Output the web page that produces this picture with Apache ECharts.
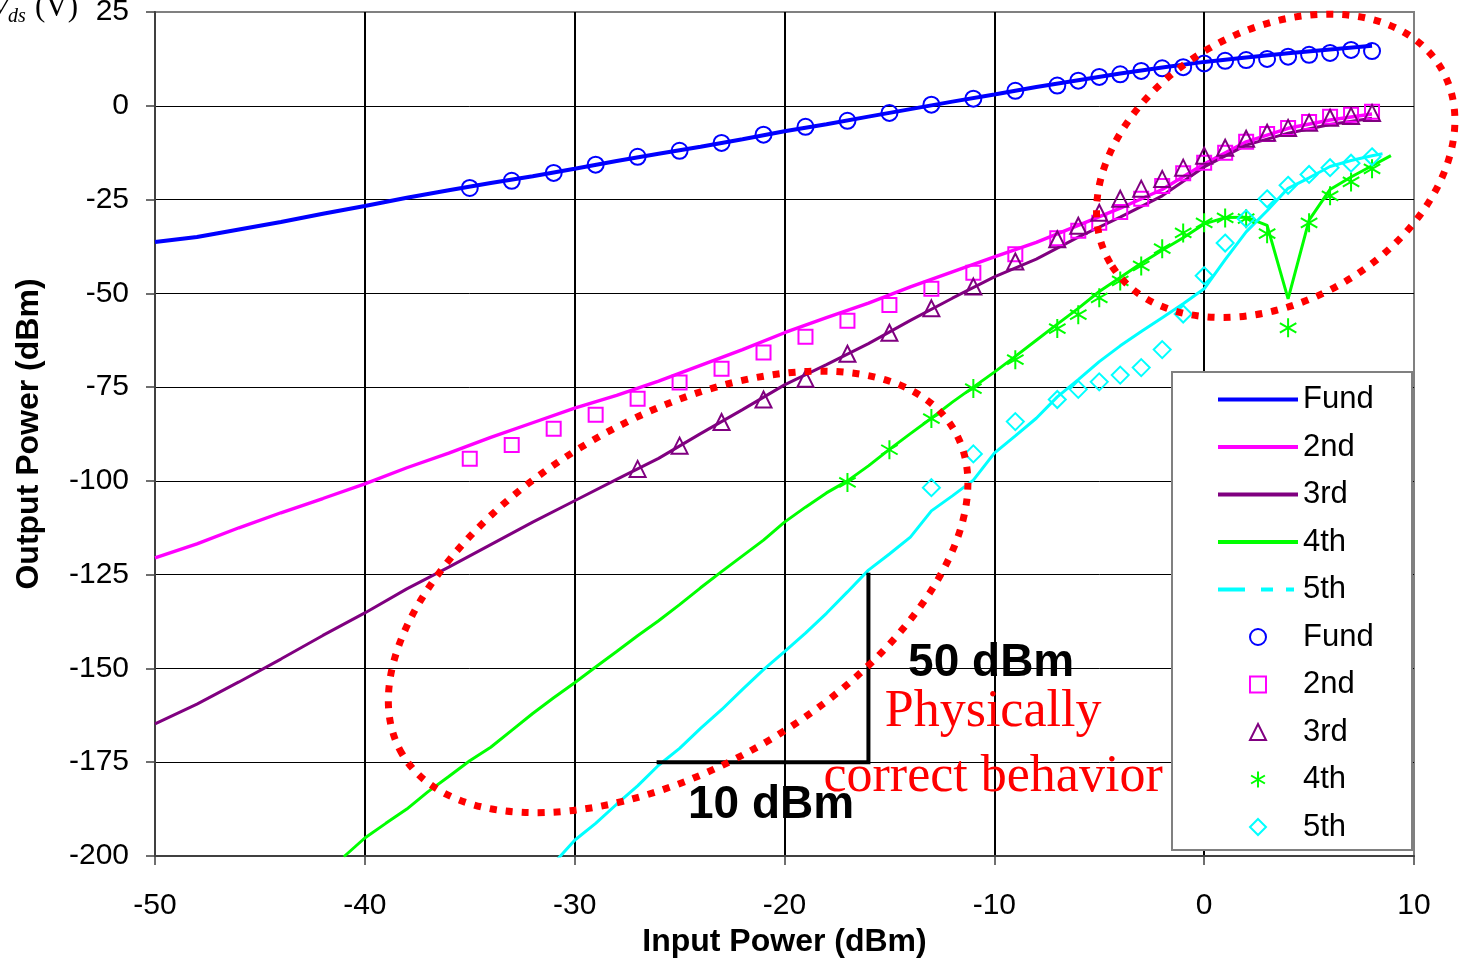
<!DOCTYPE html>
<html>
<head>
<meta charset="utf-8">
<script src="https://cdn.jsdelivr.net/npm/echarts@6/dist/echarts.min.js"></script>
<style>
  html, body { margin: 0; padding: 0; background: #fff; }
  #chart { width: 1462px; height: 960px; }
</style>
</head>
<body>
<div id="chart"></div>
<script>
// ---- simulated harmonic output (solid lines) ----
const simX = [-50,-48,-46,-44,-42,-40,-38,-36,-34,-32,-30,-28,-26,-24,-22,-20,-18,-16,-14,-12,-10,-8,-6,-4,-2,0,2,4,6,8];
const fundSim = [-36.3,-35.0,-33.0,-31.0,-28.8,-26.7,-24.5,-22.5,-20.6,-18.8,-16.8,-14.7,-12.8,-10.9,-8.9,-6.8,-4.9,-2.9,-0.9,1.1,3.0,5.0,6.8,8.6,10.2,11.7,12.9,14.0,15.0,16.0];
const secondSim = [-120.5,-116.8,-112.5,-108.5,-104.7,-100.8,-96.5,-92.6,-88.4,-84.5,-80.6,-77.2,-73.4,-69.2,-65.0,-60.5,-56.5,-52.6,-48.3,-44.3,-40.3,-36.4,-31.9,-27.3,-22.3,-15.5,-9.6,-6.0,-3.8,-2.2];
const thirdSim = [-164.8,-159.5,-153.6,-147.5,-141.2,-135.2,-128.8,-123.0,-117.0,-111.0,-105.3,-99.6,-94.0,-87.4,-81.0,-74.4,-69.0,-63.4,-57.2,-51.3,-45.6,-40.9,-35.0,-29.7,-24.0,-16.3,-10.5,-7.3,-5.0,-3.3];

const fourthSimX = [-41,-40,-39,-38,-37,-36,-35,-34,-33,-32,-31,-30,-29,-28,-27,-26,-25,-24,-23,-22,-21,-20,-19,-18,-17,-16,-15,-14,-13,-12,-11,-10,-9,-8,-7,-6,-5,-4,-3,-2,-1,0,1,2,3,4,5,6,7,8,8.9];
const fourthSim = [-200.2,-195.2,-191.3,-187.5,-182.9,-178.8,-174.6,-171.0,-166.5,-162.0,-157.8,-153.8,-149.6,-145.5,-141.3,-137.3,-133.0,-128.5,-124.2,-120.0,-115.8,-111.0,-107.0,-103.2,-100.0,-96.0,-91.6,-87.4,-83.3,-79.0,-75.0,-71.0,-66.8,-62.5,-58.2,-54.0,-49.5,-45.8,-42.0,-38.5,-35.2,-31.5,-29.8,-29.7,-31.9,-51.5,-30.5,-22.3,-19.0,-16.0,-13.3];

const fifthSimX = [-31,-30,-29,-28,-27,-26,-25,-24,-23,-22,-21,-20,-19,-18,-17,-16,-15,-14,-13,-12,-11,-10,-9,-8,-7,-6,-5,-4,-3,-2,-1,0,1,2,3,4,5,6,7,8,8.5];
const fifthSim = [-202.0,-195.8,-191.3,-186.2,-181.3,-175.8,-171.3,-166.0,-161.0,-155.6,-150.3,-145.5,-140.6,-135.3,-129.6,-123.8,-119.5,-115.0,-108.0,-104.0,-99.8,-92.6,-88.0,-83.3,-77.6,-73.0,-68.2,-64.0,-60.2,-56.5,-52.8,-48.8,-41.0,-33.6,-28.0,-22.0,-19.2,-16.2,-14.6,-13.3,-12.8];

// ---- measured harmonic output (markers) ----
const measX = [-35,-33,-31,-29,-27,-25,-23,-21,-19,-17,-15,-13,-11,-9,-7,-6,-5,-4,-3,-2,-1,0,1,2,3,4,5,6,7,8];
const fundMeas = [-21.9,-20.0,-17.9,-15.7,-13.6,-12.0,-9.9,-7.7,-5.6,-4.0,-1.9,0.3,1.9,4.0,5.4,6.7,7.7,8.4,9.3,10.0,10.3,11.3,12.0,12.2,12.5,13.1,13.6,14.1,14.9,14.6];
const secondMeas = [-94.1,-90.4,-86.1,-82.4,-78.1,-73.8,-70.1,-65.8,-61.6,-57.3,-53.1,-48.8,-44.5,-39.6,-35.3,-33.3,-31.2,-28.3,-24.8,-21.4,-18.0,-15.2,-12.5,-9.6,-7.5,-5.9,-4.3,-2.9,-2.4,-1.6];
const thirdMeasX = [-27,-25,-23,-21,-19,-17,-15,-13,-11,-9,-7,-6,-5,-4,-3,-2,-1,0,1,2,3,4,5,6,7,8];
const thirdMeas = [-96.8,-90.6,-84.3,-78.3,-72.8,-66.1,-60.5,-54.0,-48.2,-41.5,-35.6,-32.0,-28.5,-24.8,-22.1,-19.5,-16.5,-13.3,-11.2,-8.8,-7.2,-5.9,-4.5,-3.2,-2.7,-1.9];
const fourthMeasX = [-17,-15,-13,-11,-9,-7,-6,-5,-4,-3,-2,-1,0,1,2,3,4,5,6,7,8];
const fourthMeas = [-100.4,-91.7,-83.4,-75.4,-67.7,-59.4,-55.7,-51.2,-46.7,-42.7,-38.1,-33.9,-31.2,-29.9,-30.1,-34.1,-59.2,-31.2,-24.0,-20.3,-16.8];
const fifthMeasX = [-13,-11,-9,-7,-6,-5,-4,-3,-2,-1,0,1,2,3,4,5,6,7,8];
const fifthMeas = [-101.8,-92.8,-84.2,-78.3,-75.6,-73.6,-71.8,-69.8,-65.0,-55.5,-45.3,-36.6,-30.1,-24.8,-21.2,-18.3,-16.5,-15.3,-13.6];

// slope guide: 10 dB input step vs 50 dB output step on the 5th harmonic
const slopeX = [-26, -16, -16];
const slopeY = [-175, -175, -125];

const harmonicNames = ['Fund', '2nd', '3rd', '4th', '5th'];
const harmonicColors = ['#0000ff', '#ff00ff', '#800080', '#00ff00', '#00ffff'];

const SANS = '"Liberation Sans", Arial, sans-serif';
const SERIF = '"Liberation Serif", "Times New Roman", serif';

function zip(xs, ys) { return xs.map((x, i) => [x, ys[i]]); }

const starPath = 'path://M0,-1L0,1M-0.866,-0.5L0.866,0.5M-0.866,0.5L0.866,-0.5';
// marker shapes as paths so the legend keeps their aspect ratio
const markerIcons = [
  'circle',
  'path://M0,0H1V1H0Z',
  'path://M0.5,0L1,1H0Z',
  starPath,
  'path://M0.5,0L1,0.5L0.5,1L0,0.5Z'
];

const lineSets = [
  { x: simX, y: fundSim, w: 4 },
  { x: simX, y: secondSim, w: 3.4 },
  { x: simX, y: thirdSim, w: 3 },
  { x: fourthSimX, y: fourthSim, w: 3 },
  { x: fifthSimX, y: fifthSim, w: 3 }
];
const markerSets = [
  { x: measX, y: fundMeas, symbol: 'circle', size: 16 },
  { x: measX, y: secondMeas, symbol: 'rect', size: 14 },
  { x: thirdMeasX, y: thirdMeas, symbol: 'triangle', size: 16 },
  { x: fourthMeasX, y: fourthMeas, symbol: starPath, size: 19 },
  { x: fifthMeasX, y: fifthMeas, symbol: 'diamond', size: 17 }
];

const series = [];
lineSets.forEach((s, i) => {
  series.push({
    name: harmonicNames[i],
    type: 'line',
    data: zip(s.x, s.y),
    symbol: 'none',
    silent: true,
    lineStyle: { color: harmonicColors[i], width: s.w },
    itemStyle: { color: harmonicColors[i] },
    z: 2
  });
});
markerSets.forEach((s, i) => {
  series.push({
    name: harmonicNames[i] + ' ',
    type: 'scatter',
    data: zip(s.x, s.y),
    symbol: s.symbol,
    symbolSize: s.size,
    symbolKeepAspect: true,
    silent: true,
    itemStyle: { color: 'rgba(0,0,0,0)', borderColor: harmonicColors[i], borderWidth: 2, opacity: 1 },
    z: 3
  });
});
series.push({
  name: 'slope',
  type: 'line',
  data: zip(slopeX, slopeY),
  symbol: 'none',
  silent: true,
  lineStyle: { color: '#000', width: 4, cap: 'square', join: 'miter' },
  z: 4
});

// legend entries: simulated lines first, measured markers below
const lineLegend = harmonicNames.map((n, i) => ({
  name: n,
  itemStyle: { opacity: 0 },
  lineStyle: { width: 4, color: harmonicColors[i], type: i === 4 ? [27, 16, 12, 13, 8, 20] : 'solid' }
}));
const markerLegend = harmonicNames.map((n, i) => ({
  name: n + ' ',
  icon: markerIcons[i],
  itemStyle: { color: 'rgba(0,0,0,0)', borderColor: harmonicColors[i], borderWidth: 2 }
}));

const chart = echarts.init(document.getElementById('chart'), null, { renderer: 'canvas' });

chart.setOption({
  animation: false,
  backgroundColor: '#ffffff',
  grid: {
    left: 155, top: 12, width: 1259, height: 844,
    show: true, borderColor: '#808080', borderWidth: 2, backgroundColor: 'rgba(0,0,0,0)',
    containLabel: false, outerBoundsMode: 'none'
  },
  xAxis: {
    type: 'value', min: -50, max: 10, interval: 10,
    name: 'Input Power (dBm)', nameLocation: 'middle', nameGap: 70, nameMoveOverlap: false,
    nameTextStyle: { fontFamily: SANS, fontSize: 32, fontWeight: 'bold', color: '#000' },
    axisLine: { show: true, onZero: false, lineStyle: { color: '#404040', width: 2 } },
    axisTick: { show: true, length: 9, lineStyle: { color: '#404040', width: 1.5 } },
    axisLabel: { margin: 35, fontFamily: SANS, fontSize: 30, color: '#000' },
    splitLine: { show: true, showMinLine: false, showMaxLine: false, lineStyle: { color: '#000', width: 2 } }
  },
  yAxis: {
    type: 'value', min: -200, max: 25, interval: 25,
    name: 'Output Power (dBm)', nameLocation: 'middle', nameGap: 110, nameRotate: 90, nameMoveOverlap: false,
    nameTextStyle: { fontFamily: SANS, fontSize: 32, fontWeight: 'bold', color: '#000' },
    axisLine: { show: true, onZero: false, lineStyle: { color: '#404040', width: 2 } },
    axisTick: { show: true, length: 9, lineStyle: { color: '#404040', width: 1.5 } },
    axisLabel: { margin: 26, fontFamily: SANS, fontSize: 30, color: '#000' },
    splitLine: { show: true, showMinLine: false, showMaxLine: false, lineStyle: { color: '#000', width: 1 } }
  },
  legend: {
    orient: 'vertical', left: 1216, top: 384, padding: 0,
    itemWidth: 80, itemHeight: 16, itemGap: 16.5,
    symbolKeepAspect: true,
    selectedMode: false,
    textStyle: { fontFamily: SANS, fontSize: 31, color: '#000' },
    formatter: (n) => n.trim(),
    data: lineLegend.concat(markerLegend),
    z: 10
  },
  series: series
});

// ---- annotations placed in axis coordinates ----
const toPx = (pt) => chart.convertToPixel({ gridIndex: 0 }, pt);

const ellipses = [
  { center: [-25.07, -129.6], rx: 320, ry: 174, tilt: 30.4 },
  { center: [3.41, -16.0], rx: 192, ry: 135, tilt: 30.4 }
];
const notes = [
  { text: '50 dBm', at: [-10.15, -148.5], font: 'bold 46px ' + SANS, color: '#000' },
  { text: '10 dBm', at: [-20.64, -186.6], font: 'bold 46px ' + SANS, color: '#000' },
  { text: 'Physically', at: [-10.06, -161.8], font: '52px ' + SERIF, color: '#ff0000' },
  { text: 'correct behavior', at: [-10.06, -178.9], font: '52px ' + SERIF, color: '#ff0000' }
];

const elements = [];
// legend frame
elements.push({
  type: 'rect', shape: { x: 1172, y: 372, width: 240, height: 478 },
  style: { fill: '#fff', stroke: '#808080', lineWidth: 2 }, silent: true, z: 8
});
ellipses.forEach((e) => {
  const p = toPx(e.center);
  elements.push({
    type: 'ellipse', x: p[0], y: p[1], rotation: e.tilt * Math.PI / 180,
    shape: { cx: 0, cy: 0, rx: e.rx, ry: e.ry },
    style: { fill: 'none', stroke: '#ff0000', lineWidth: 7, lineDash: [7, 9] },
    silent: true, z: 50
  });
});
notes.forEach((n) => {
  const p = toPx(n.at);
  elements.push({
    type: 'text', x: p[0], y: p[1], silent: true, z: 60,
    style: { text: n.text, font: n.font, fill: n.color, align: 'center', verticalAlign: 'middle' }
  });
});
// clipped drain-voltage caption at the top-left corner
elements.push(
  { type: 'text', x: -9, y: 7.5, silent: true, z: 60,
    style: { text: 'V', font: 'italic 30px ' + SERIF, fill: '#000', align: 'left', verticalAlign: 'middle' } },
  { type: 'text', x: 8, y: 17, silent: true, z: 60,
    style: { text: 'ds', font: 'italic 20px ' + SERIF, fill: '#000', align: 'left', verticalAlign: 'middle' } },
  { type: 'text', x: 35, y: 7.5, silent: true, z: 60,
    style: { text: '(V)', font: '31px ' + SERIF, fill: '#000', align: 'left', verticalAlign: 'middle' } }
);

chart.setOption({ graphic: { elements: elements } });
</script>
</body>
</html>
